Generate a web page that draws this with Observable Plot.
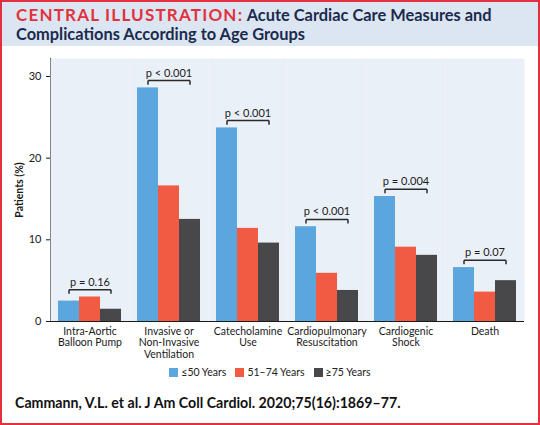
<!DOCTYPE html>
<html><head><meta charset="utf-8">
<script src="https://cdn.jsdelivr.net/npm/d3@7"></script>
<script src="https://cdn.jsdelivr.net/npm/@observablehq/plot@0.6"></script>
<style>
html,body{margin:0;padding:0;background:#fff;}
#wrap{position:relative;width:540px;height:425px;overflow:hidden;font-family:Lato,sans-serif;background:#fff;}
#title{position:absolute;left:0;top:0;width:540px;height:46px;background:#dce6f2;box-sizing:border-box;padding:5px 0 0 16px;font-weight:700;font-size:16.4px;line-height:19px;color:#1b2b4d;}
#title .red{color:#e2313d;letter-spacing:1.2px;font-size:17px;}
#chart{position:absolute;left:0;top:50px;}
#legend{position:absolute;left:0;top:366px;width:540px;display:flex;justify-content:center;gap:9px;font-size:10.5px;color:#222;}
#legend span{display:flex;align-items:center;}
#legend i{display:inline-block;width:9px;height:9px;margin-right:3px;}
#caption{position:absolute;left:15px;top:394px;font-weight:700;font-size:14.2px;color:#111;}
#border{position:absolute;left:0;top:0;width:540px;height:425px;box-sizing:border-box;border:2px solid #e2313d;pointer-events:none;}
</style></head>
<body>
<div id="wrap">
  <div id="title"><span class="red">CENTRAL ILLUSTRATION:</span> Acute Cardiac Care Measures and<br>Complications According to Age Groups</div>
  <div id="chart"></div>
  <div id="legend"></div>
  <div id="caption">Cammann, V.L. et al. J Am Coll Cardiol. 2020;75(16):1869–77.</div>
  <div id="border"></div>
</div>
<script>
const categories = ["Intra-Aortic\nBalloon Pump", "Invasive or\nNon-Invasive\nVentilation", "Catecholamine\nUse", "Cardiopulmonary\nResuscitation", "Cardiogenic\nShock", "Death"];
const groups = ["≤50 Years", "51–74 Years", "≥75 Years"];
const colors = ["#5aa6dd", "#f15b43", "#48484a"];
const age50 = [2.5, 28.6, 23.7, 11.6, 15.3, 6.6];
const age51to74 = [3.0, 16.6, 11.4, 5.9, 9.1, 3.6];
const age75 = [1.5, 12.5, 9.6, 3.8, 8.1, 5.0];
const pValues = ["p = 0.16", "p < 0.001", "p < 0.001", "p < 0.001", "p = 0.004", "p = 0.07"];
const yTicks = [0, 10, 20, 30];

const series = [age50, age51to74, age75];
const rows = [];
categories.forEach((c, i) => groups.forEach((g, j) => rows.push({cat: c, group: g, value: series[j][i]})));
const brackets = categories.map((c, i) => ({cat: c, y: Math.max(age50[i], age51to74[i], age75[i]) + 0.9, p: pValues[i]}));
const bracketTicks = [];
brackets.forEach(b => [groups[0], groups[2]].forEach(g => bracketTicks.push({cat: b.cat, g, y: b.y})));

const chart = Plot.plot({
  width: 540,
  height: 315,
  marginTop: 8,
  marginBottom: 44,
  marginLeft: 49,
  marginRight: 15,
  style: {fontFamily: "Lato, sans-serif", fontSize: "11px", color: "#1a1a1a", background: "transparent"},
  fx: {domain: categories, axis: null, padding: 0},
  x: {domain: groups, axis: null, paddingInner: 0, paddingOuter: 0.34},
  y: {domain: [0, 32.2], ticks: yTicks, tickSize: 4, line: true, label: "Patients (%)", labelAnchor: "center", labelOffset: 35, labelArrow: "none", tickFormat: d => d},
  color: {domain: groups, range: colors},
  marks: [
    Plot.frame({fill: "#eaf0f7", stroke: null}),
    Plot.barY(rows, {fx: "cat", x: "group", y: "value", fill: "group"}),
    Plot.ruleY([0], {stroke: "#1a1a1a", strokeWidth: 1.2}),
    Plot.link(brackets, {fx: "cat", x1: () => groups[0], x2: () => groups[2], y1: "y", y2: "y", stroke: "#2a2a2a", strokeWidth: 1.5}),
    Plot.link(bracketTicks, {fx: "cat", x1: "g", x2: "g", y1: "y", y2: d => d.y - 0.5, stroke: "#2a2a2a", strokeWidth: 1.5}),
    Plot.text(brackets, {fx: "cat", x: () => groups[1], y: "y", text: "p", dy: -4, lineAnchor: "bottom", fontSize: 11, fill: "#1a1a1a"}),
    Plot.text(categories, {fx: d => d, text: d => d, frameAnchor: "bottom", dy: 5, lineAnchor: "top", lineHeight: 1.1, fontSize: 10.5, fill: "#1a1a1a"})
  ]
});
document.getElementById("chart").appendChild(chart);
d3.select(chart).selectAll("text").filter(function(){ return this.textContent === "Patients (%)"; }).attr("font-weight", 700).attr("font-size", 10.5);

const legend = d3.select("#legend");
groups.forEach((g, i) => {
  const s = legend.append("span");
  s.append("i").style("background", colors[i]);
  s.append("text").text(g);
});
</script>
</body></html>
